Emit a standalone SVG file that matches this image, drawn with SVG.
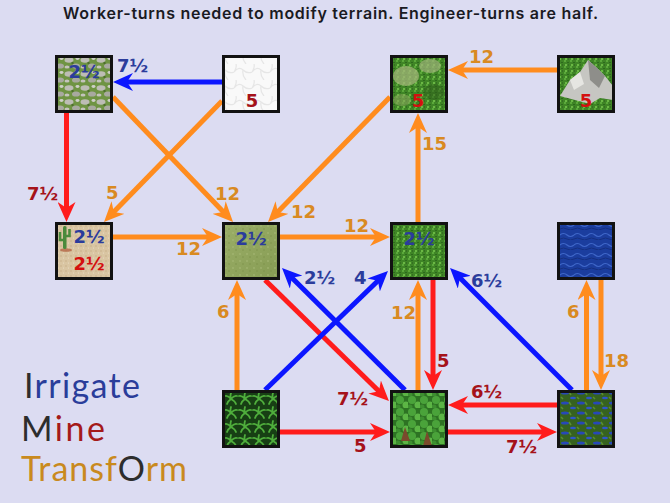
<svg xmlns="http://www.w3.org/2000/svg" width="670" height="503" viewBox="0 0 670 503">
<style>
.lbl{font-family:"DejaVu Sans",sans-serif;font-weight:bold;font-size:18px}
.blue{fill:#2b3c9c}
.dred{fill:#a5121a}
.red{fill:#d40f0f}
.org{fill:#d98a22}
.frame{fill:none;stroke:#121212;stroke-width:3}
.ln{fill:none;stroke-width:5}
.lo{stroke:#ff8c1e}
.lr{stroke:#ff1c1c}
.lb{stroke:#0c16ff}
.leg{font-family:Lato,"Open Sans",sans-serif;font-size:34px}
</style>
<defs>
<marker id="ao" viewBox="0 0 20 18" refX="10" refY="9" markerWidth="20" markerHeight="18" markerUnits="userSpaceOnUse" orient="auto"><path d="M0,0 L20,9 L0,18 L6,9 Z" fill="#ff8c1e"/></marker>
<marker id="ar" viewBox="0 0 20 18" refX="10" refY="9" markerWidth="20" markerHeight="18" markerUnits="userSpaceOnUse" orient="auto"><path d="M0,0 L20,9 L0,18 L6,9 Z" fill="#ff1c1c"/></marker>
<marker id="ab" viewBox="0 0 20 18" refX="10" refY="9" markerWidth="20" markerHeight="18" markerUnits="userSpaceOnUse" orient="auto"><path d="M0,0 L20,9 L0,18 L6,9 Z" fill="#0c16ff"/></marker>
<pattern id="pGrass" width="6" height="6" patternUnits="userSpaceOnUse">
<rect width="6" height="6" fill="#3f8526"/>
<rect width="2" height="2" fill="#5aa83a"/>
<rect x="3" y="2" width="2" height="1" fill="#2c6a1c"/>
<rect x="1" y="4" width="2" height="2" fill="#6bb845"/>
<rect x="4" y="4" width="1" height="2" fill="#356f22"/>
</pattern>
<pattern id="pRocks" width="16" height="14" patternUnits="userSpaceOnUse">
<rect width="16" height="14" fill="#6f9443"/>
<ellipse cx="5" cy="4" rx="4.5" ry="2.8" fill="#bdbdb5"/>
<ellipse cx="12" cy="10" rx="4" ry="2.6" fill="#a8a9a0"/>
<ellipse cx="13.5" cy="2.5" rx="2" ry="1.4" fill="#cfcfc8"/>
<ellipse cx="3" cy="11" rx="2.5" ry="1.6" fill="#c4c4bc"/>
<circle cx="8.5" cy="7" r="1.2" fill="#4d6e2e"/>
</pattern>
<pattern id="pTundra" width="18" height="16" patternUnits="userSpaceOnUse">
<rect width="18" height="16" fill="#f9f9f9"/>
<path d="M0,8 Q5,2 9,6 T18,8 M9,6 Q8,12 12,16 M2,0 Q3,4 0,8" fill="none" stroke="#e6e6e6" stroke-width="1.2"/>
</pattern>
<pattern id="pSand" width="5" height="5" patternUnits="userSpaceOnUse">
<rect width="5" height="5" fill="#d9c5a2"/>
<circle cx="1" cy="1" r="0.7" fill="#c4ab84"/>
<circle cx="3.5" cy="3" r="0.6" fill="#ebdfc8"/>
</pattern>
<linearGradient id="gPlains" x1="0" y1="0" x2="1" y2="1">
<stop offset="0" stop-color="#9bae68"/>
<stop offset="1" stop-color="#869c53"/>
</linearGradient>
<pattern id="pPlains" width="7" height="7" patternUnits="userSpaceOnUse">
<circle cx="2" cy="2" r="1" fill="#a8ba78" opacity="0.6"/>
<circle cx="5" cy="5" r="1" fill="#7a9048" opacity="0.5"/>
</pattern>
<pattern id="pOcean" width="14" height="10" patternUnits="userSpaceOnUse">
<rect width="14" height="10" fill="#1b3d9e"/>
<path d="M0,5 Q3.5,2 7,5 T14,5" fill="none" stroke="#3e66c9" stroke-width="1.2"/>
<path d="M0,9 Q3.5,7 7,9 T14,9" fill="none" stroke="#142f80" stroke-width="1"/>
</pattern>
<pattern id="pJungle" width="14" height="14" patternUnits="userSpaceOnUse">
<rect width="14" height="14" fill="#173f14"/>
<path d="M7,7 Q4,3 1,4 M7,7 Q4,9 3,12 M7,7 Q10,3 13,4 M7,7 Q11,9 12,12 M7,7 Q6,4 7,1" fill="none" stroke="#4fae3c" stroke-width="1.8" stroke-linecap="round"/>
</pattern>
<pattern id="pForest" width="12" height="12" patternUnits="userSpaceOnUse">
<rect width="12" height="12" fill="#2d7323"/>
<circle cx="4" cy="4" r="4" fill="#4aa33a"/>
<circle cx="10" cy="9" r="3.5" fill="#5cb545"/>
<circle cx="2" cy="11" r="2.5" fill="#3d8f30"/>
</pattern>
<pattern id="pSwamp" width="16" height="10" patternUnits="userSpaceOnUse">
<rect width="16" height="10" fill="#36621f"/>
<ellipse cx="5" cy="3" rx="4" ry="1.5" fill="#2748b8"/>
<ellipse cx="13" cy="8" rx="3" ry="1.2" fill="#2f55c8"/>
<path d="M9,2 L11,5 M1,7 L3,9" stroke="#5a8f30" stroke-width="1.5"/>
</pattern>
</defs>
<rect width="670" height="503" fill="#dcdcf2"/>
<text x="63" y="19" font-family="Inter,'Liberation Sans',sans-serif" font-weight="600" font-size="16" fill="#1a1a22" textLength="535">Worker-turns needed to modify terrain. Engineer-turns are half.</text>

<g id="connectors">
<path class="ln lb" d="M222,82 H123" marker-end="url(#ab)"/>
<path class="ln lr" d="M66.5,113 V212" marker-end="url(#ar)"/>
<path class="ln lo" d="M113,97 L226.1,214.8" marker-end="url(#ao)"/>
<path class="ln lo" d="M222,101 L111,214.8" marker-end="url(#ao)"/>
<path class="ln lo" d="M113,237 H212" marker-end="url(#ao)"/>
<path class="ln lo" d="M390,97 L275,214.8" marker-end="url(#ao)"/>
<path class="ln lo" d="M557,70 H458" marker-end="url(#ao)"/>
<path class="ln lo" d="M418,222 V123" marker-end="url(#ao)"/>
<path class="ln lo" d="M280,237 H380" marker-end="url(#ao)"/>
<path class="ln lo" d="M237,390 V290" marker-end="url(#ao)"/>
<path class="ln lo" d="M418,390 V290" marker-end="url(#ao)"/>
<path class="ln lr" d="M433,280 V380" marker-end="url(#ar)"/>
<path class="ln lr" d="M265,280 L381.8,394" marker-end="url(#ar)"/>
<path class="ln lr" d="M557,405 H458" marker-end="url(#ar)"/>
<path class="ln lr" d="M448,432 H547" marker-end="url(#ar)"/>
<path class="ln lr" d="M280,432 H380" marker-end="url(#ar)"/>
<path class="ln lb" d="M405,390 L289.1,275" marker-end="url(#ab)"/>
<path class="ln lb" d="M265,390 L380.8,278" marker-end="url(#ab)"/>
<path class="ln lb" d="M572,390 L457.1,275.1" marker-end="url(#ab)"/>
<path class="ln lo" d="M586.5,390 V290" marker-end="url(#ao)"/>
<path class="ln lo" d="M601,280 V380" marker-end="url(#ao)"/>
<g class="lbl">
<text x="117" y="72" class="blue">7½</text>
<text x="27" y="200" class="dred">7½</text>
<text x="215" y="200" class="org">12</text>
<text x="106" y="199" class="org">5</text>
<text x="176" y="255" class="org">12</text>
<text x="291" y="218" class="org">12</text>
<text x="469" y="63" class="org">12</text>
<text x="422" y="150" class="org">15</text>
<text x="344" y="232" class="org">12</text>
<text x="217" y="318" class="org">6</text>
<text x="391" y="319" class="org">12</text>
<text x="437" y="367" class="dred">5</text>
<text x="337" y="405" class="dred">7½</text>
<text x="304" y="284" class="blue">2½</text>
<text x="354" y="284" class="blue">4</text>
<text x="471" y="287" class="blue">6½</text>
<text x="471" y="398" class="dred">6½</text>
<text x="506" y="453" class="dred">7½</text>
<text x="354" y="452" class="dred">5</text>
<text x="567" y="318" class="org">6</text>
<text x="604" y="367" class="org">18</text>
</g>
</g>

<g id="node-hills">
<rect x="55" y="55" width="58" height="58" fill="url(#pRocks)"/>
<rect x="56.5" y="56.5" width="55" height="55" class="frame"/>
<text x="84" y="78" text-anchor="middle" class="lbl blue">2½</text>
</g>
<g id="node-glacier">
<rect x="222" y="55" width="58" height="58" fill="url(#pTundra)"/>
<rect x="223.5" y="56.5" width="55" height="55" class="frame"/>
<text x="252" y="107" text-anchor="middle" class="lbl dred">5</text>
</g>
<g id="node-grassy-hills">
<rect x="390" y="55" width="58" height="58" fill="url(#pGrass)"/>
<ellipse cx="406" cy="76" rx="13" ry="10" fill="#a2b478" opacity="0.75"/>
<ellipse cx="430" cy="66" rx="11" ry="7" fill="#9fb27a" opacity="0.7"/>
<ellipse cx="434" cy="92" rx="10" ry="8" fill="#2f5e1c" opacity="0.55"/>
<ellipse cx="402" cy="100" rx="9" ry="6" fill="#86a35a" opacity="0.6"/>
<rect x="391.5" y="56.5" width="55" height="55" class="frame"/>
<text x="418" y="107" text-anchor="middle" class="lbl red">5</text>
</g>
<g id="node-mountains">
<rect x="557" y="55" width="58" height="58" fill="url(#pGrass)"/>
<polygon points="560,96 570,80 580,72 588,60 597,68 605,76 613,86 613,100 600,98 590,104 575,100" fill="#c6c6c2"/>
<polygon points="588,60 597,68 605,76 599,88 590,80" fill="#8e8e8a"/>
<polygon points="570,80 580,72 584,84 574,90" fill="#e6e6e2"/>
<rect x="558.5" y="56.5" width="55" height="55" class="frame"/>
<text x="586" y="107" text-anchor="middle" class="lbl red">5</text>
</g>
<g id="node-desert">
<rect x="55" y="222" width="58" height="58" fill="url(#pSand)"/>
<ellipse cx="66" cy="250" rx="6" ry="1.8" fill="#b05a3a" opacity="0.7"/>
<rect x="63" y="226" width="3.5" height="23" rx="1.5" fill="#4a8a3c"/>
<path d="M63.5,240 H60 V232 M66,236 H69.5 V229" fill="none" stroke="#4a8a3c" stroke-width="2.6"/>
<rect x="56.5" y="223.5" width="55" height="55" class="frame"/>
<text x="89" y="243" text-anchor="middle" class="lbl blue">2½</text>
<text x="89" y="270" text-anchor="middle" class="lbl red">2½</text>
</g>
<g id="node-plains">
<rect x="222" y="222" width="58" height="58" fill="url(#gPlains)"/>
<rect x="222" y="222" width="58" height="58" fill="url(#pPlains)"/>
<rect x="223.5" y="223.5" width="55" height="55" class="frame"/>
<text x="251" y="245" text-anchor="middle" class="lbl blue">2½</text>
</g>
<g id="node-grassland">
<rect x="390" y="222" width="58" height="58" fill="url(#pGrass)"/>
<rect x="391.5" y="223.5" width="55" height="55" class="frame"/>
<text x="419" y="245" text-anchor="middle" class="lbl blue">2½</text>
</g>
<g id="node-ocean">
<rect x="557" y="222" width="58" height="58" fill="url(#pOcean)"/>
<rect x="558.5" y="223.5" width="55" height="55" class="frame"/>
</g>
<g id="node-jungle">
<rect x="222" y="390" width="58" height="58" fill="url(#pJungle)"/>
<rect x="223.5" y="391.5" width="55" height="55" class="frame"/>
</g>
<g id="node-forest">
<rect x="390" y="390" width="58" height="58" fill="url(#pForest)"/>
<path d="M401,441 L405,427 L410,441 Z M423,446 L427,431 L432,446 Z" fill="#7a4a2c"/>
<rect x="391.5" y="391.5" width="55" height="55" class="frame"/>
</g>
<g id="node-swamp">
<rect x="557" y="390" width="58" height="58" fill="url(#pSwamp)"/>
<rect x="558.5" y="391.5" width="55" height="55" class="frame"/>
</g>

<g id="legend" class="leg">
<text x="24" y="398" textLength="116"><tspan fill="#2d2d2d">I</tspan><tspan fill="#2a3d9a">rrigate</tspan></text>
<text x="21" y="441" textLength="84"><tspan fill="#2d2d2d">M</tspan><tspan fill="#a41a1a">ine</tspan></text>
<text x="21" y="481" textLength="166"><tspan fill="#c98a1e">Transf</tspan><tspan fill="#2d2d2d">O</tspan><tspan fill="#c98a1e">rm</tspan></text>
</g>
</svg>
